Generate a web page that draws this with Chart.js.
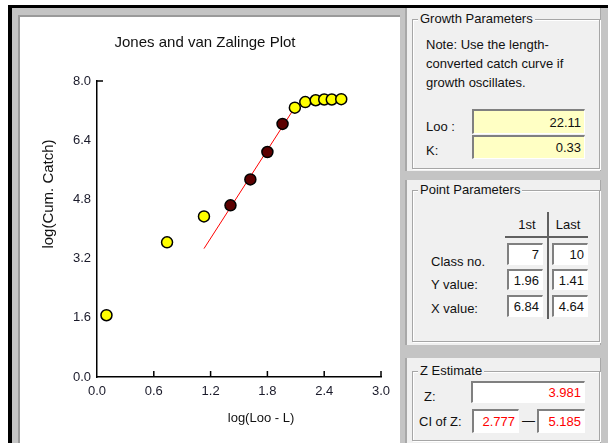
<!DOCTYPE html>
<html>
<head>
<meta charset="utf-8">
<script src="https://cdn.jsdelivr.net/npm/chart.js@4.4.1/dist/chart.umd.min.js"></script>
<style>
  body { margin: 0; width: 608px; height: 443px; background: #fff; position: relative; overflow: hidden;
         font-family: "Liberation Sans", Arial, sans-serif; font-size: 13px; color: #111; }
  .abs { position: absolute; }
  #frame { left: 8px; top: 5px; width: 600px; height: 438px; background: #c4c4c4;
           border-top: 3px solid #000; border-left: 4px solid #000; box-sizing: border-box; }
  #plotBox { left: 18px; top: 15px; width: 382px; height: 428px; background: #fff;
             border-top: 2px solid #9a9a9a; border-left: 2px solid #9a9a9a; box-sizing: border-box; }
  #plotBox canvas { position: absolute; left: 0; top: 0; }
  .panel { background: #f0f0f0; border-left: 2px solid #a8a8a8; border-right: 1px solid #a8a8a8; box-sizing: border-box; }
  .group { border: 1px solid #a6a6a6; box-shadow: 1px 1px 0 #fff, inset 1px 1px 0 #fff; }
  .legend { background: #f0f0f0; padding: 0 2px; line-height: 16px; white-space: nowrap; }
  .txt { line-height: 18px; white-space: nowrap; }
  .field { box-sizing: border-box; border-top: 2px solid #808080; border-left: 2px solid #808080;
           border-bottom: 1px solid #fff; border-right: 1px solid #fff; background: #fff;
           text-align: right; padding-right: 3px; white-space: nowrap; }
  .yellow { background: #ffffc4; }
  .red { color: #ff0000; }
</style>
</head>
<body>
<div id="frame" class="abs"></div>
<div id="plotBox" class="abs"><canvas id="chart" width="380" height="426"></canvas></div>

<!-- Growth Parameters -->
<div class="abs panel" style="left:405px; top:8px; width:196px; height:163px;"></div>
<div class="abs group" style="left:412px; top:19px; width:186px; height:148px;"></div>
<div class="abs legend" style="left:418px; top:11px;">Growth Parameters</div>
<div class="abs txt" style="left:426px; top:36px;">Note: Use the length-</div>
<div class="abs txt" style="left:426px; top:55px;">converted catch curve if</div>
<div class="abs txt" style="left:426px; top:74px;">growth oscillates.</div>
<div class="abs txt" style="left:426px; top:118px;">Loo :</div>
<div class="abs txt" style="left:426px; top:142px;">K:</div>
<div class="abs field yellow" style="left:472px; top:109px; width:113px; height:25px; line-height:23px;">22.11</div>
<div class="abs field yellow" style="left:472px; top:135px; width:113px; height:24px; line-height:22px;">0.33</div>

<!-- Point Parameters -->
<div class="abs panel" style="left:405px; top:180px; width:196px; height:165px;"></div>
<div class="abs group" style="left:412px; top:190px; width:186px; height:150px;"></div>
<div class="abs legend" style="left:418px; top:182px;">Point Parameters</div>
<div class="abs txt" style="left:513px; top:216px; width:28px; text-align:center;">1st</div>
<div class="abs txt" style="left:553px; top:216px; width:30px; text-align:center;">Last</div>
<div class="abs" style="left:505px; top:236px; width:83px; height:2px; background:#606060;"></div>
<div class="abs" style="left:547px; top:212px; width:2px; height:107px; background:#606060;"></div>
<div class="abs txt" style="left:431px; top:253px;">Class no.</div>
<div class="abs txt" style="left:431px; top:276px;">Y value:</div>
<div class="abs txt" style="left:431px; top:300px;">X value:</div>
<div class="abs field" style="left:507px; top:243px; width:36px; height:22px; line-height:20px;">7</div>
<div class="abs field" style="left:552px; top:243px; width:36px; height:22px; line-height:20px;">10</div>
<div class="abs field" style="left:507px; top:269px; width:36px; height:21px; line-height:19px;">1.96</div>
<div class="abs field" style="left:552px; top:269px; width:36px; height:21px; line-height:19px;">1.41</div>
<div class="abs field" style="left:507px; top:295px; width:36px; height:22px; line-height:20px;">6.84</div>
<div class="abs field" style="left:552px; top:295px; width:36px; height:22px; line-height:20px;">4.64</div>

<!-- Z Estimate -->
<div class="abs panel" style="left:405px; top:358px; width:196px; height:85px;"></div>
<div class="abs group" style="left:412px; top:371px; width:186px; height:68px;"></div>
<div class="abs legend" style="left:418px; top:363px;">Z Estimate</div>
<div class="abs txt" style="left:424px; top:388px;">Z:</div>
<div class="abs txt" style="left:419px; top:413px;">CI of Z:</div>
<div class="abs field red" style="left:471px; top:381px; width:114px; height:22px; line-height:20px;">3.981</div>
<div class="abs field red" style="left:472px; top:409px; width:47px; height:24px; line-height:22px;">2.777</div>
<div class="abs txt" style="left:522px; top:412px;">—</div>
<div class="abs field red" style="left:537px; top:409px; width:48px; height:24px; line-height:22px;">5.185</div>

<script>
// Jones and van Zalinge plot values
const xFree = [0.10, 0.74, 1.13, 2.09, 2.20, 2.31, 2.40, 2.48, 2.58];
const yFree = [1.67, 3.64, 4.34, 7.28, 7.43, 7.48, 7.50, 7.50, 7.51];
const xSelected = [1.41, 1.62, 1.80, 1.96];
const ySelected = [4.64, 5.34, 6.08, 6.84];
const xFit = [1.13, 2.08];
const yFit = [3.47, 7.25];
const xTicks = [0.0, 0.6, 1.2, 1.8, 2.4, 3.0];
const yTicks = [0.0, 1.6, 3.2, 4.8, 6.4, 8.0];

const chartTitle = 'Jones and van Zalinge Plot';
const xTitle = 'log(Loo - L)';
const yTitle = 'log(Cum. Catch)';

const toPoints = (xs, ys) => xs.map((x, i) => ({ x: x, y: ys[i] }));

// inward tick marks and the text around the plot
const plotDecor = {
    id: 'plotDecor',
    afterDraw(chart) {
        const { ctx, chartArea } = chart;
        const x = chart.scales.x, y = chart.scales.y;
        ctx.save();
        ctx.strokeStyle = '#000';
        ctx.lineWidth = 1.5;
        ctx.beginPath();
        xTicks.forEach(v => {
            if (v === 0) return;
            const px = x.getPixelForValue(v);
            ctx.moveTo(px, chartArea.bottom);
            ctx.lineTo(px, chartArea.bottom - 6);
        });
        const py = y.getPixelForValue(yTicks[yTicks.length - 1]);
        ctx.moveTo(chartArea.left, py);
        ctx.lineTo(chartArea.left + 6, py);
        ctx.stroke();

        ctx.fillStyle = '#111';
        ctx.textAlign = 'center';
        ctx.textBaseline = 'middle';
        ctx.font = '15px "Liberation Sans"';
        ctx.fillText(chartTitle, 185, 26);
        ctx.font = '13px "Liberation Sans"';
        ctx.fillText(xTitle, 241, 401);
        ctx.translate(29, 177);
        ctx.rotate(-Math.PI / 2);
        ctx.font = '15px "Liberation Sans"';
        ctx.fillText(yTitle, 0, 0);
        ctx.restore();
    }
};

new Chart(document.getElementById('chart').getContext('2d'), {
    type: 'scatter',
    data: {
        datasets: [{
            data: toPoints(xSelected, ySelected),
            backgroundColor: '#5c0000',
            borderColor: '#000',
            borderWidth: 1.5,
            pointRadius: 5.5
        }, {
            data: toPoints(xFree, yFree),
            backgroundColor: '#ffff00',
            borderColor: '#000',
            borderWidth: 1.5,
            pointRadius: 5.5
        }, {
            data: toPoints(xFit, yFit),
            showLine: true,
            borderColor: '#ff0000',
            borderWidth: 1,
            pointRadius: 0
        }]
    },
    options: {
        responsive: false,
        animation: false,
        layout: { padding: { top: 64, right: 19, left: 0, bottom: 0 } },
        plugins: { legend: { display: false }, tooltip: { enabled: false }, title: { display: false } },
        scales: {
            x: {
                type: 'linear',
                min: xTicks[0],
                max: xTicks[xTicks.length - 1],
                afterFit: s => { s.height = 66; },
                afterBuildTicks: s => { s.ticks = xTicks.map(v => ({ value: v })); },
                grid: { display: true, drawOnChartArea: false, drawTicks: false },
                border: { color: '#000', width: 1.5 },
                ticks: { color: '#1a1a2a', font: { family: 'Liberation Sans', size: 13 }, padding: 7,
                         maxRotation: 0, callback: v => v.toFixed(1) }
            },
            y: {
                type: 'linear',
                min: yTicks[0],
                max: yTicks[yTicks.length - 1],
                afterFit: s => { s.width = 77; },
                afterBuildTicks: s => { s.ticks = yTicks.map(v => ({ value: v })); },
                grid: { display: true, drawOnChartArea: false, drawTicks: false },
                border: { color: '#000', width: 1.5 },
                ticks: { color: '#1a1a2a', font: { family: 'Liberation Sans', size: 13 }, padding: 6,
                         callback: v => v.toFixed(1) }
            }
        }
    },
    plugins: [plotDecor]
});
</script>
</body>
</html>
